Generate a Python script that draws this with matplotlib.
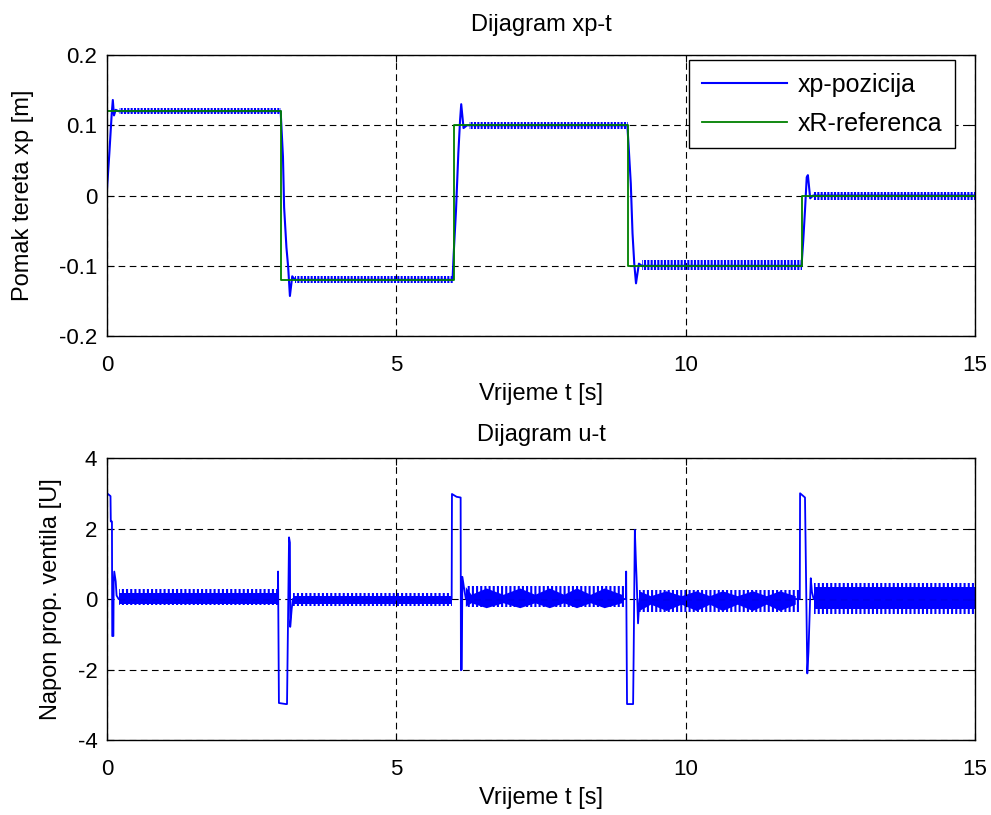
import numpy as np
import matplotlib
matplotlib.use('Agg')
from matplotlib import pyplot

pyplot.rcParams.update({'font.family': ['Liberation Sans', 'DejaVu Sans'],
                        'font.size': 16, 'hatch.linewidth': 1.5,
                        'axes.unicode_minus': False})

# reference position xR
ref_t = [0, 3, 3, 6, 6, 9, 9, 12, 12, 15]
ref_x = [0.12, 0.12, -0.12, -0.12, 0.10, 0.10, -0.10, -0.10, 0.0, 0.0]

# load position xp (transients)
xp_t = [0.00, 0.04, 0.08, 0.10, 0.12, 0.15, 0.20,
        3.00, 3.04, 3.06, 3.10, 3.13, 3.16, 3.20, 3.25,
        5.97, 5.99, 6.03, 6.07, 6.10, 6.12, 6.16, 6.22,
        8.99, 9.01, 9.05, 9.08, 9.11, 9.14, 9.19, 9.24,
        12.00, 12.03, 12.06, 12.09, 12.11, 12.15, 12.20, 15.00]
xp_v = [0.010, 0.060, 0.115, 0.136, 0.114, 0.122, 0.120,
        0.120, 0.055, -0.017, -0.074, -0.102, -0.143, -0.115, -0.120,
        -0.120, -0.083, -0.021, 0.060, 0.107, 0.130, 0.096, 0.100,
        0.100, 0.074, 0.017, -0.054, -0.097, -0.125, -0.097, -0.100,
        -0.100, -0.064, -0.021, 0.026, 0.029, -0.004, 0.000, 0.000]

# chattering band of xp around each plateau: start, end, low, high
xp_band_t0 = [0.20, 3.25, 6.25, 9.25, 12.20]
xp_band_t1 = [3.00, 5.98, 9.00, 12.00, 15.00]
xp_band_lo = [0.116, -0.125, 0.094, -0.106, -0.007]
xp_band_hi = [0.125, -0.114, 0.105, -0.092, 0.005]

# valve voltage u (transients)
u_t = [0.000, 0.060, 0.065, 0.085, 0.090, 0.110, 0.115, 0.125, 0.150, 0.165, 0.200,
       2.950, 2.955, 2.970, 3.090, 3.110, 3.120, 3.145, 3.160, 3.165, 3.190, 3.210,
       5.955, 5.960, 6.040, 6.110, 6.115, 6.130, 6.140, 6.170, 6.200,
       8.965, 8.970, 8.985, 9.090, 9.100, 9.120, 9.140, 9.150, 9.175, 9.200,
       11.970, 11.975, 12.060, 12.100, 12.120, 12.160, 12.180, 12.210, 15.000]
u_v = [3.00, 2.92, 2.20, 2.20, -1.05, -1.05, 0.50, 0.78, 0.50, 0.10, 0.00,
       0.00, 0.78, -2.95, -2.98, -2.98, -1.60, 1.75, 1.60, -0.79, -0.30, 0.00,
       0.00, 2.98, 2.90, 2.88, -2.02, -2.00, 0.63, 0.30, 0.00,
       0.00, 0.78, -2.98, -2.98, -1.50, 1.96, 1.00, 0.60, -0.69, 0.00,
       0.00, 3.00, 2.88, -2.11, -1.50, 0.59, 0.20, 0.00, 0.00]

# outer chattering envelope of u: start, end, low, high
u_band_t0 = [0.20, 3.21, 6.20, 9.20, 12.21]
u_band_t1 = [2.95, 5.955, 8.965, 11.97, 15.00]
u_band_lo = [-0.18, -0.20, -0.22, -0.37, -0.42]
u_band_hi = [0.28, 0.16, 0.37, 0.25, 0.45]

# dense core of the u chattering (beating)
u_core_t = [[0.20, 2.95],
            [3.21, 5.955],
            [6.20, 6.30, 6.56, 6.85, 7.14, 7.40, 7.65, 7.90, 8.12, 8.36, 8.60, 8.90],
            [9.20, 9.40, 9.67, 9.93, 10.19, 10.42, 10.64, 10.90, 11.16, 11.40, 11.63, 11.90],
            [12.21, 15.00]]
u_core_lo = [[-0.14, -0.14],
             [-0.14, -0.14],
             [-0.22, -0.12, -0.26, -0.12, -0.26, -0.12, -0.26, -0.12, -0.26, -0.12, -0.26, -0.12],
             [-0.34, -0.16, -0.34, -0.16, -0.34, -0.16, -0.34, -0.16, -0.34, -0.16, -0.34, -0.16],
             [-0.28, -0.28]]
u_core_hi = [[0.16, 0.16],
             [0.10, 0.10],
             [0.34, 0.12, 0.30, 0.12, 0.30, 0.12, 0.30, 0.12, 0.30, 0.12, 0.30, 0.12],
             [0.22, 0.08, 0.22, 0.08, 0.22, 0.08, 0.22, 0.08, 0.22, 0.08, 0.22, 0.08],
             [0.34, 0.34]]

blue = '#0000ff'
green = (0, 0.5, 0)


def style_axes(ax, yticks):
    ax.set_xlim(0, 15)
    ax.set_xticks([0, 5, 10, 15])
    ax.set_yticks(yticks)
    ax.grid(True, color='k', linestyle=(0, (6, 4)), linewidth=0.8)
    ax.tick_params(direction='in', length=5, width=0.8, top=True, right=True,
                   labelsize=16)
    ax.tick_params(axis='x', pad=14)
    ax.tick_params(axis='y', pad=7)
    for s in ax.spines.values():
        s.set_linewidth(1.0)
    ax.set_xlabel('Vrijeme t [s]', fontsize=17, labelpad=5)


fig = pyplot.figure(figsize=(9.91, 8.15), dpi=100)
ax1 = fig.add_axes([0.108, 0.5877, 0.876, 0.3448])
ax2 = fig.add_axes([0.108, 0.092, 0.876, 0.346])

for t0, t1, lo, hi in zip(xp_band_t0, xp_band_t1, xp_band_lo, xp_band_hi):
    ax1.fill_between([t0, t1], [lo, lo], [hi, hi], facecolor='none',
                     edgecolor=blue, hatch='|||||', linewidth=0)
ax1.plot(xp_t, xp_v, color=blue, linewidth=1.5, label='xp-pozicija')
ax1.plot(ref_t, ref_x, color=green, linewidth=1.3, label='xR-referenca')
ax1.set_ylim(-0.2, 0.2)
style_axes(ax1, [-0.2, -0.1, 0, 0.1, 0.2])
ax1.set_yticklabels(['-0.2', '-0.1', '0', '0.1', '0.2'])
ax1.set_ylabel('Pomak tereta xp [m]', fontsize=17, labelpad=18)
ax1.set_title('Dijagram xp-t', fontsize=17, pad=17)
leg = ax1.legend(loc='upper right', bbox_to_anchor=(0.977, 0.982), borderaxespad=0,
                 fontsize=18, handlelength=3.4, handletextpad=0.45, labelspacing=0.6,
                 fancybox=False, framealpha=1, edgecolor='k', borderpad=0.5)
leg.get_frame().set_linewidth(1.0)

for t0, t1, lo, hi in zip(u_band_t0, u_band_t1, u_band_lo, u_band_hi):
    ax2.fill_between([t0, t1], [lo, lo], [hi, hi], facecolor='none',
                     edgecolor=blue, hatch='||||', linewidth=0)
for ct, clo, chi in zip(u_core_t, u_core_lo, u_core_hi):
    ax2.fill_between(ct, clo, chi, facecolor=blue, linewidth=0)
ax2.plot(u_t, u_v, color=blue, linewidth=1.3)
ax2.set_ylim(-4, 4)
style_axes(ax2, [-4, -2, 0, 2, 4])
ax2.set_ylabel('Napon prop. ventila [U]', fontsize=17, labelpad=11)
ax2.set_title('Dijagram u-t', fontsize=17, pad=12)

fig.savefig('out.png', dpi=100)
